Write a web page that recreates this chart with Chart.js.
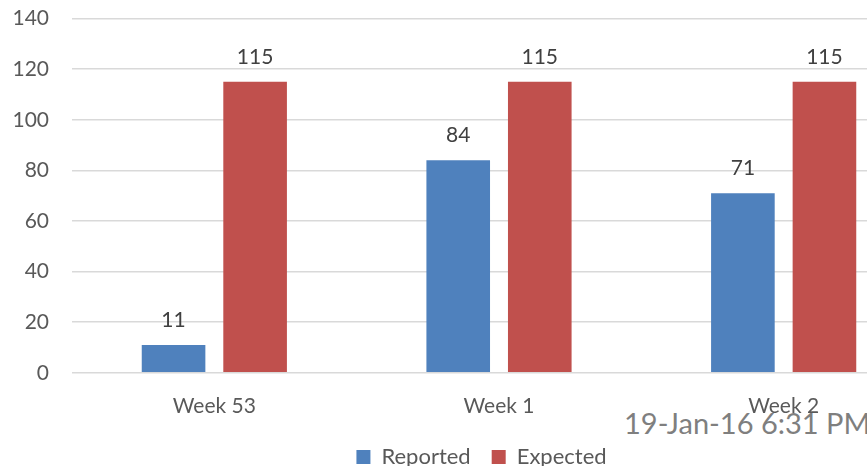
<!DOCTYPE html>
<html>
<head>
<meta charset="utf-8">
<script src="https://cdn.jsdelivr.net/npm/chart.js@4.4.1/dist/chart.umd.min.js"></script>
<style>
  html, body { margin: 0; padding: 0; background: #fff; overflow: hidden; }
  #wrap { position: relative; width: 867px; height: 466px; overflow: hidden; }
  #c { position: absolute; left: 0; top: -16.6px; }
  #stamp { position: absolute; left: 624px; top: 405px; font-family: Lato, sans-serif; font-size: 29px; color: #7f7f7f; white-space: nowrap; }
</style>
</head>
<body>
<div id="wrap">
  <div id="stamp">19-Jan-16 6:31 PM</div>
  <canvas id="c" width="958" height="510"></canvas>
</div>
<script>
const categories = ["Week 53", "Week 1", "Week 2"];
const reported = [11, 84, 71];
const expected = [115, 115, 115];
const seriesNames = ["Reported", "Expected"];
const yTicks = [0, 20, 40, 60, 80, 100, 120, 140];

const FONT = "Lato, sans-serif";

const valueLabels = {
  id: "valueLabels",
  afterDatasetsDraw(chart) {
    const ctx = chart.ctx;
    ctx.save();
    ctx.font = "21px " + FONT;
    ctx.fillStyle = "#404040";
    ctx.textAlign = "center";
    ctx.textBaseline = "alphabetic";
    chart.data.datasets.forEach((ds, i) => {
      const meta = chart.getDatasetMeta(i);
      meta.data.forEach((el, j) => {
        ctx.fillText(String(ds.data[j]), el.x, el.y - 18);
      });
    });
    ctx.restore();
  }
};

const legendShift = {
  id: "legendShift",
  afterLayout(chart) {
    const L = chart.legend;
    if (L) { L.left += 18.5; L.right += 18.5; L.top -= 15; L.bottom -= 15; }
  }
};

const chart = new Chart(document.getElementById("c"), {
  type: "bar",
  data: {
    labels: categories,
    datasets: [
      { label: seriesNames[0], data: reported, backgroundColor: "#4F81BD", borderWidth: 0 },
      { label: seriesNames[1], data: expected, backgroundColor: "#C0504D", borderWidth: 0 }
    ]
  },
  options: {
    responsive: false,
    animation: false,
    devicePixelRatio: 1,
    layout: { padding: { top: 0, right: 32, left: 0, bottom: 0 } },
    datasets: { bar: { categoryPercentage: 0.573, barPercentage: 0.78 } },
    scales: {
      x: {
        grid: { display: false, drawTicks: false },
        border: { display: false },
        ticks: { color: "#595959", font: { family: FONT, size: 21 }, padding: 21 }
      },
      y: {
        min: 0, max: 140,
        afterBuildTicks(scale) { scale.ticks = yTicks.map(v => ({ value: v })); },
        afterFit(scale) { scale.width = 72; },
        grid: { color: "#d9d9d9", lineWidth: 1.5, drawTicks: false },
        border: { display: false },
        ticks: { color: "#595959", font: { family: FONT, size: 21 }, padding: 23 }
      }
    },
    plugins: {
      legend: {
        position: "bottom",
        labels: { color: "#595959", font: { family: FONT, size: 22 }, boxWidth: 14, boxHeight: 14, padding: 21 }
      },
      tooltip: { enabled: false }
    }
  },
  plugins: [valueLabels, legendShift]
});
</script>
</body>
</html>
